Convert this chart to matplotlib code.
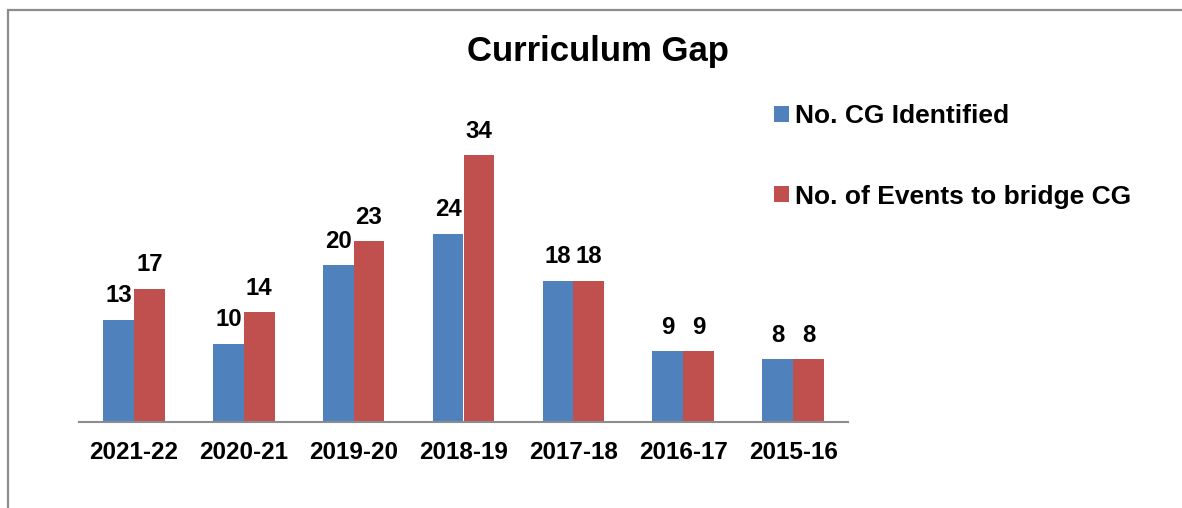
import matplotlib
matplotlib.use("Agg")
import matplotlib.pyplot as plt
from matplotlib.patches import Rectangle
import numpy as np

plt.rcParams['font.family'] = ['Liberation Sans', 'DejaVu Sans']

years = ["2021-22", "2020-21", "2019-20", "2018-19", "2017-18", "2016-17", "2015-16"]
cg_identified = [13, 10, 20, 24, 18, 9, 8]
events_bridge = [17, 14, 23, 34, 18, 9, 8]
series_names = ["No. CG Identified", "No. of Events to bridge CG"]
colors = ["#4F81BD", "#C0504D"]
title = "Curriculum Gap"

W, H = 1182, 508
fig = plt.figure(figsize=(W / 100, H / 100), dpi=100)

# outer frame (top and left visible)
fig.patches.append(Rectangle((7.5 / W, -0.1), 1.2, (H - 10.5) / H + 0.1,
                             transform=fig.transFigure, fill=False,
                             edgecolor="#8c8c8c", linewidth=1.6))

ax = fig.add_axes([79 / W, (H - 422) / H, (848 - 79) / W, 314 / H])
x = np.arange(len(years))
bw = 0.28
b1 = ax.bar(x - bw / 2, cg_identified, bw, color=colors[0], label=series_names[0])
b2 = ax.bar(x + bw / 2, events_bridge, bw, color=colors[1], label=series_names[1])
ax.bar_label(b1, padding=9, fontsize=17.3, fontweight='bold')
ax.bar_label(b2, padding=9, fontsize=17.3, fontweight='bold')

ax.set_xlim(-0.5, len(years) - 0.5)
ax.set_ylim(0, 40)
ax.set_xticks(x)
ax.set_xticklabels(years, fontsize=17.5, fontweight='bold')
ax.tick_params(axis='x', length=0, pad=14)
ax.set_yticks([])
for s in ['top', 'right', 'left']:
    ax.spines[s].set_visible(False)
ax.spines['bottom'].set_color('#8c8c8c')
ax.spines['bottom'].set_linewidth(1.5)

fig.text(598 / W, 1 - 51 / H, title, fontsize=25, fontweight='bold',
         ha='center', va='center')

leg = fig.legend(handles=[b1, b2], loc='upper left',
                 bbox_to_anchor=(774 / W, 1 - 104 / H),
                 frameon=False, prop={'size': 19, 'weight': 'bold'},
                 handlelength=0.55, handleheight=0.55, handletextpad=0.25,
                 labelspacing=2.15, borderaxespad=0, borderpad=0)

fig.savefig("out.png", dpi=100)
